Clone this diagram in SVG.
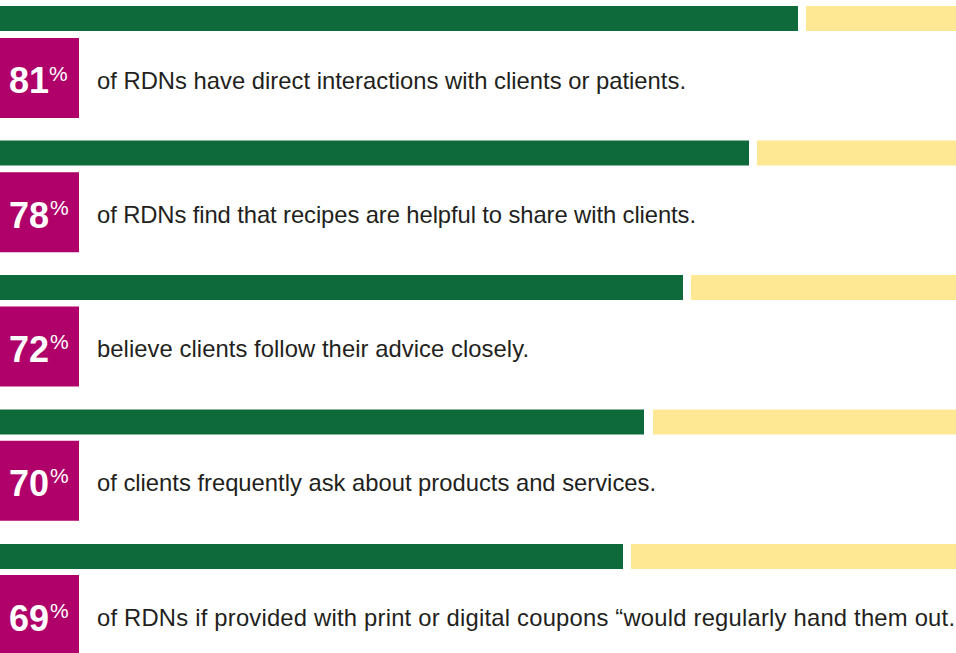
<svg xmlns="http://www.w3.org/2000/svg" width="956" height="653" viewBox="0 0 956 653">
<style>
.g{fill:#0f6a3b}
.y{fill:#fee894}
.m{fill:#b0006a}
.n{font-family:"Liberation Sans",Arial,sans-serif;font-weight:bold;font-size:36px;fill:#ffffff}
.p{font-family:"Liberation Sans",Arial,sans-serif;font-size:21px;fill:#ffffff}
.t{font-family:"Liberation Sans",Arial,sans-serif;font-size:23.8px;fill:#231f20}
</style>
<rect width="956" height="653" fill="#ffffff"/>
<g id="row1">
<rect class="g" x="0" y="6" width="798" height="25"/>
<rect class="y" x="806" y="6" width="150" height="25"/>
<rect class="m" x="0" y="38" width="79" height="80"/>
<text class="n" x="9" y="93">81</text>
<text class="p" x="49" y="80.5">%</text>
<text class="t" x="97" y="88.5" textLength="589" lengthAdjust="spacing">of RDNs have direct interactions with clients or patients.</text>
</g>
<g id="row2">
<rect class="g" x="0" y="140.5" width="749" height="25"/>
<rect class="y" x="757" y="140.5" width="199" height="25"/>
<rect class="m" x="0" y="172.25" width="79" height="80"/>
<text class="n" x="9" y="227.75">78</text>
<text class="p" x="50" y="214.75">%</text>
<text class="t" x="97" y="222.75" textLength="599" lengthAdjust="spacing">of RDNs find that recipes are helpful to share with clients.</text>
</g>
<g id="row3">
<rect class="g" x="0" y="275" width="683" height="25"/>
<rect class="y" x="691" y="275" width="265" height="25"/>
<rect class="m" x="0" y="306.5" width="79" height="80"/>
<text class="n" x="9" y="362">72</text>
<text class="p" x="50" y="349">%</text>
<text class="t" x="97" y="357" textLength="432" lengthAdjust="spacing">believe clients follow their advice closely.</text>
</g>
<g id="row4">
<rect class="g" x="0" y="409.5" width="644" height="25"/>
<rect class="y" x="653" y="409.5" width="303" height="25"/>
<rect class="m" x="0" y="440.75" width="79" height="80"/>
<text class="n" x="9" y="496.25">70</text>
<text class="p" x="50" y="483.25">%</text>
<text class="t" x="97" y="491.25" textLength="559" lengthAdjust="spacing">of clients frequently ask about products and services.</text>
</g>
<g id="row5">
<rect class="g" x="0" y="544" width="623" height="25"/>
<rect class="y" x="631" y="544" width="325" height="25"/>
<rect class="m" x="0" y="575" width="79" height="80"/>
<text class="n" x="9" y="630.5">69</text>
<text class="p" x="50" y="617.5">%</text>
<text class="t" x="97" y="625.5" textLength="858" lengthAdjust="spacing">of RDNs if provided with print or digital coupons “would regularly hand them out.</text>
</g>
<g id="connectors"></g>
</svg>
